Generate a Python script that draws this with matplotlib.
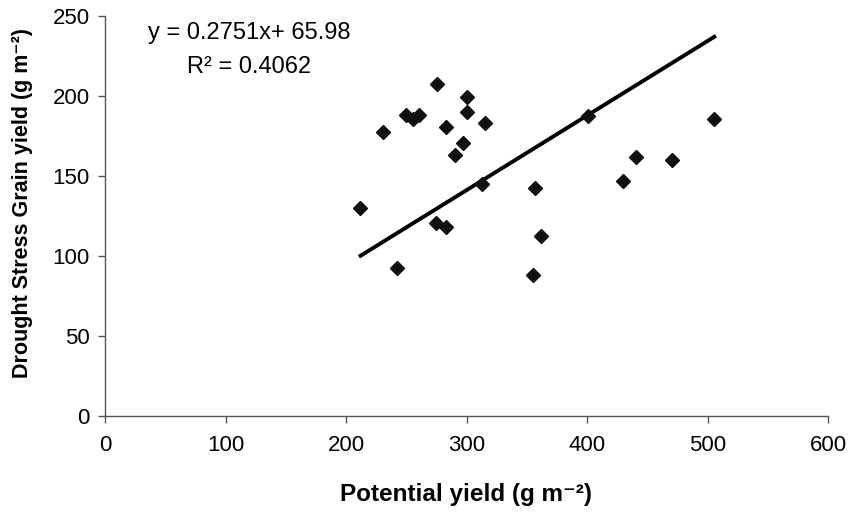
import matplotlib
matplotlib.use('Agg')
import matplotlib.pyplot as plt

# potential yield vs drought stress grain yield (g m-2)
potential = [211.4, 230.2, 242.3, 249.5, 260.3, 255.4, 275.0, 274.4, 282.7, 282.7,
             290.5, 296.6, 299.9, 299.9, 312.6, 315.4, 356.6, 355.2, 361.6, 400.8,
             429.9, 440.4, 470.0, 505.4]
drought = [129.9, 177.4, 92.7, 188.2, 188.2, 185.7, 207.4, 120.9, 118.4, 180.9,
           163.2, 170.5, 199.3, 189.9, 144.9, 183.1, 142.8, 88.2, 112.6, 187.8,
           147.2, 162.2, 160.1, 185.6]

# trend line as drawn
line_x = [210.5, 506.8]
line_y = [99.6, 237.8]

xticks = [0, 100, 200, 300, 400, 500, 600]
yticks = [0, 50, 100, 150, 200, 250]

plt.rcParams['font.family'] = ['Liberation Sans', 'DejaVu Sans']

fig = plt.figure(figsize=(8.53, 5.12), dpi=100)
ax = fig.add_axes([0.1234, 0.1875, 0.8476, 0.7807])

ax.plot(line_x, line_y, color='black', lw=2.8, solid_capstyle='butt', zorder=2)
ax.plot(potential, drought, 'D', color='#111111', ms=6.8, zorder=3)

ax.set_xlim(0, 600)
ax.set_ylim(0, 250)
ax.set_xticks(xticks)
ax.set_yticks(yticks)
ax.tick_params(labelsize=16, direction='out', length=5, color='#555555', width=1)
ax.tick_params(axis='x', pad=9)
ax.tick_params(axis='y', pad=6)

for s in ['top', 'right']:
    ax.spines[s].set_visible(False)
for s in ['left', 'bottom']:
    ax.spines[s].set_color('#555555')
    ax.spines[s].set_linewidth(1)
    ax.spines[s].set_clip_on(False)

fig.text(466/853, 1 - 495/512, 'Potential yield (g m⁻²)', fontsize=17.5,
         fontweight='bold', ha='center', va='center')
fig.text(23/853, 1 - 203/512, 'Drought Stress Grain yield (g m⁻²)', fontsize=15.5,
         fontweight='bold', ha='center', va='center', rotation=90)

fig.text(148/853, 1 - 33/512, 'y = 0.2751x+ 65.98', fontsize=17, va='center')
fig.text(187/853, 1 - 67/512, 'R² = 0.4062', fontsize=17, va='center')

plt.savefig('out.png', dpi=100)
